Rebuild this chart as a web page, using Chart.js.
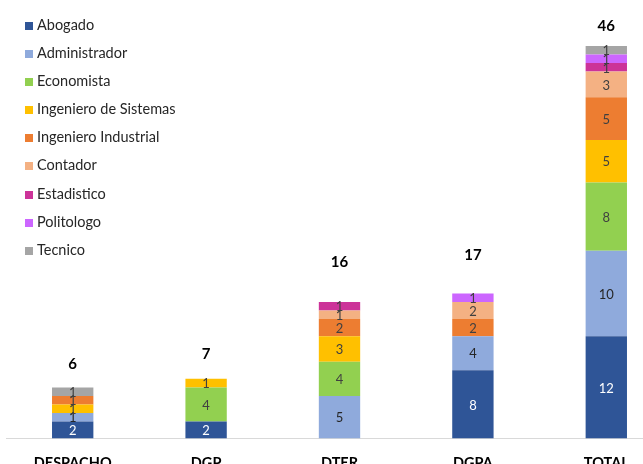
<!DOCTYPE html>
<html>
<head>
<meta charset="utf-8">
<script src="https://cdn.jsdelivr.net/npm/chart.js@4/dist/chart.umd.min.js"></script>
<style>
  html, body { margin: 0; padding: 0; background: #fff; overflow: hidden; }
  #wrap { position: relative; width: 673px; height: 480px; }
  #legend { position: absolute; left: 25px; top: 16px; font-family: Lato, "Noto Sans", sans-serif; font-size: 14.5px; color: #262626; }
  #legend .item { height: 28.1px; display: flex; align-items: flex-start; }
  #legend .box { width: 8px; height: 8px; margin-top: 6px; margin-right: 4px; flex: none; }
</style>
</head>
<body>
<div id="wrap">
  <canvas id="c"></canvas>
  <div id="legend"></div>
</div>
<script>
// Staff by profession in each office
const categories = ['DESPACHO', 'DGP', 'DTER', 'DGPA', 'TOTAL'];
const professions = ['Abogado', 'Administrador', 'Economista', 'Ingeniero de Sistemas',
  'Ingeniero Industrial', 'Contador', 'Estadistico', 'Politologo', 'Tecnico'];

const abogado       = [2, 2, 0, 8, 12];
const administrador = [1, 0, 5, 4, 10];
const economista    = [0, 4, 4, 0, 8];
const ingSistemas   = [1, 1, 3, 0, 5];
const ingIndustrial = [1, 0, 2, 2, 5];
const contador      = [0, 0, 1, 2, 3];
const estadistico   = [0, 0, 1, 0, 1];
const politologo    = [0, 0, 0, 1, 1];
const tecnico       = [1, 0, 0, 0, 1];

const seriesValues = [abogado, administrador, economista, ingSistemas,
  ingIndustrial, contador, estadistico, politologo, tecnico];
const colors = ['#2F5597', '#8FAADC', '#92D050', '#FFC000', '#ED7D31',
  '#F4B183', '#CC3399', '#CC66FF', '#A5A5A5'];
const labelColors = ['#ffffff', '#262626', '#404040', '#404040', '#404040',
  '#404040', '#404040', '#404040', '#404040'];

const FONT = 'Lato, "Noto Sans", sans-serif';

// Legend as HTML
const legendEl = document.getElementById('legend');
professions.forEach((p, i) => {
  const it = document.createElement('div');
  it.className = 'item';
  const b = document.createElement('span');
  b.className = 'box';
  b.style.background = colors[i];
  const t = document.createElement('span');
  t.textContent = p;
  it.appendChild(b); it.appendChild(t);
  legendEl.appendChild(it);
});

// Value inside each segment and total above each stack
const labelsPlugin = {
  id: 'stackLabels',
  afterDatasetsDraw(chart, args, opts) {
    const ctx = chart.ctx;
    ctx.save();
    ctx.textAlign = 'center';
    ctx.textBaseline = 'middle';
    ctx.font = '13px ' + FONT;
    chart.data.datasets.forEach((ds, di) => {
      const meta = chart.getDatasetMeta(di);
      meta.data.forEach((bar, i) => {
        const v = ds.data[i];
        if (!v) return;
        ctx.fillStyle = labelColors[di];
        ctx.fillText(String(v), bar.x, (bar.y + bar.base) / 2 + 1);
      });
    });
    const y = chart.scales.y;
    const x = chart.scales.x;
    ctx.font = 'bold 15px ' + FONT;
    ctx.fillStyle = '#000';
    categories.forEach((c, i) => {
      const total = seriesValues.reduce((s, arr) => s + arr[i], 0);
      const gap = opts.gaps[i];
      ctx.fillText(String(total), x.getPixelForValue(i), y.getPixelForValue(total) - gap);
    });
    ctx.restore();
  }
};

new Chart(document.getElementById('c'), {
  type: 'bar',
  data: {
    labels: categories,
    datasets: professions.map((p, i) => ({
      label: p,
      data: seriesValues[i],
      backgroundColor: colors[i],
      borderWidth: 0,
      categoryPercentage: 1,
      barPercentage: 0.31
    }))
  },
  options: {
    responsive: true,
    maintainAspectRatio: false,
    animation: false,
    events: [],
    layout: { padding: { top: 46, left: 6, right: 0, bottom: 0 } },
    plugins: {
      legend: { display: false },
      tooltip: { enabled: false },
      // distance in px from each stack top to its total label
      stackLabels: { gaps: [23, 25, 40, 38, 20] }
    },
    scales: {
      x: {
        stacked: true,
        grid: { display: false },
        border: { display: true, color: '#D9D9D9', width: 1 },
        ticks: { color: '#000', padding: 8, font: { family: FONT, size: 14.5, weight: 'bold' } }
      },
      y: {
        stacked: true,
        display: false,
        min: 0,
        max: 46
      }
    }
  },
  plugins: [labelsPlugin]
});
</script>
</body>
</html>
